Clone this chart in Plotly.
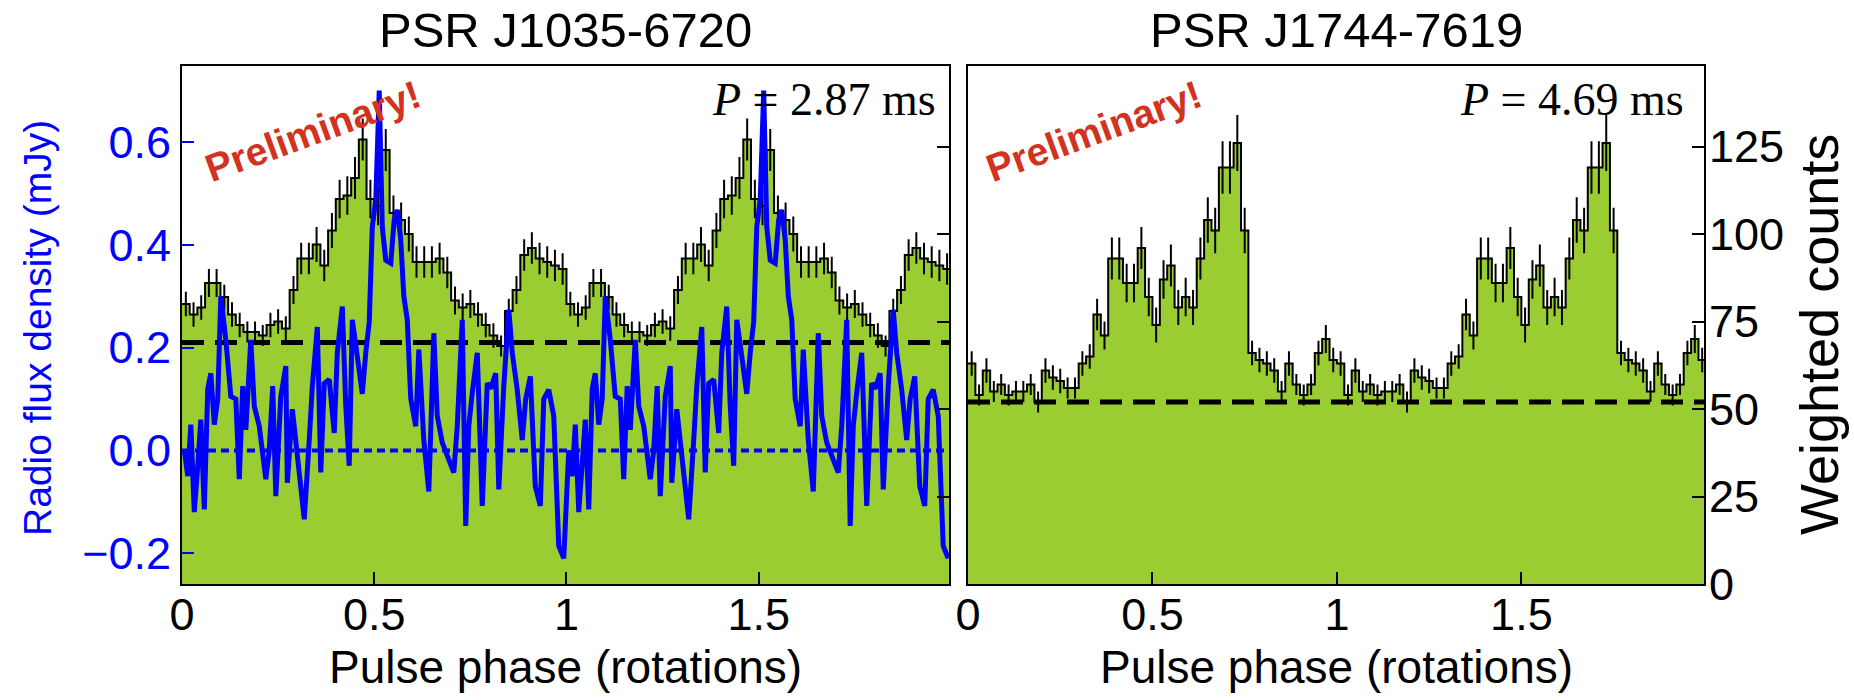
import numpy as np
import plotly.graph_objects as go

# ---------------- data ----------------
# Weighted gamma-ray counts, one rotation split into 50 phase bins
j1035_counts = [80, 77, 79, 86, 86, 82, 77, 74, 72, 72,
                71, 74, 75, 73, 84, 93, 93, 97, 91, 101,
                110, 111, 116, 127, 110, 108, 124, 106, 104, 100,
                92, 92, 92, 93, 89, 81, 79, 80, 77, 74,
                71, 68, 78, 84, 94, 96, 93, 92, 91, 90]
j1035_err = [3.5, 3.5, 3.5, 4, 4, 3.5, 3.5, 3.5, 3, 3,
             3, 3.5, 3.5, 3.5, 4, 4.5, 4.5, 5, 4.5, 5,
             5.5, 5.5, 6, 6, 5.5, 5.5, 6, 5, 5, 5,
             4.5, 4.5, 4.5, 4.5, 4.5, 4, 4, 4, 3.5, 3.5,
             3.5, 3, 3.5, 4, 4.5, 4.5, 4.5, 4.5, 4.5, 4.5]
j1035_background = 69

j1744_counts = [63, 54, 61, 55, 57, 54, 55, 55, 57, 52,
                61, 59, 58, 56, 56, 63, 65, 77, 71, 93,
                93, 86, 86, 96, 82, 74, 87, 91, 79, 82,
                79, 93, 104, 101, 119, 119, 126, 101, 66, 64,
                63, 61, 55, 63, 57, 54, 57, 66, 70, 64]
j1744_err = [3.5, 3, 3.5, 3, 3, 3, 3, 3, 3, 3,
             3.5, 3.5, 3.5, 3, 3, 3.5, 3.5, 4.5, 4, 6,
             6, 5.5, 5.5, 6, 5.5, 5, 5.5, 6, 5, 5.5,
             5, 6, 6.5, 6.5, 7.5, 7.5, 8, 6.5, 3.5, 3.5,
             3.5, 3.5, 3, 3.5, 3, 3, 3, 3.5, 4, 3.5]
j1744_background = 52

# Radio profile of PSR J1035-6720 over one rotation (mJy)
radio_phase = [0.006, 0.015, 0.023, 0.032, 0.041, 0.049, 0.058, 0.067, 0.075, 0.084,
               0.093, 0.101, 0.114, 0.127, 0.140, 0.149, 0.158, 0.166, 0.179, 0.188,
               0.201, 0.218, 0.227, 0.236, 0.244, 0.257, 0.270, 0.274, 0.287, 0.300,
               0.318, 0.331, 0.339, 0.352, 0.361, 0.370, 0.383, 0.396, 0.404, 0.417,
               0.426, 0.435, 0.443, 0.456, 0.469, 0.478, 0.487, 0.495, 0.504, 0.513,
               0.521, 0.530, 0.543, 0.552, 0.560, 0.569, 0.577, 0.586, 0.595, 0.608,
               0.616, 0.629, 0.642, 0.655, 0.664, 0.677, 0.690, 0.707, 0.716, 0.729,
               0.738, 0.746, 0.755, 0.768, 0.781, 0.794, 0.803, 0.816, 0.824, 0.837,
               0.850, 0.859, 0.872, 0.885, 0.894, 0.906, 0.919, 0.932, 0.941, 0.954,
               0.967, 0.980, 0.993]
radio_flux = [0.0, -0.05, 0.05, -0.12, -0.03, 0.06, -0.115, 0.12, 0.15, 0.05,
              0.10, 0.30, 0.215, 0.105, 0.10, -0.056, 0.125, 0.04, 0.215, 0.086,
              0.047, -0.056, 0.0, 0.125, -0.089, 0.105, 0.164, -0.063, 0.08, -0.017,
              -0.134, 0.02, 0.125, 0.24, -0.043, 0.13, 0.138, 0.034, 0.19, 0.28,
              0.086, -0.03, 0.254, 0.183, 0.11, 0.19, 0.25, 0.435, 0.487, 0.70,
              0.435, 0.37, 0.364, 0.449, 0.468, 0.41, 0.30, 0.254, 0.10, 0.047,
              0.196, 0.02, -0.08, 0.228, 0.067, 0.015, -0.01, -0.043, 0.047, 0.254,
              -0.147, 0.047, 0.112, 0.19, -0.108, 0.131, 0.12, 0.15, -0.076, 0.125,
              0.274, 0.19, 0.118, 0.02, 0.10, 0.144, -0.07, -0.108, 0.10, 0.118,
              0.067, -0.186, -0.21]

phase_ticks = [0, 0.5, 1, 1.5]
phase_ticktext = ["0", "0.5", "1", "1.5"]
flux_ticks = [-0.2, 0.0, 0.2, 0.4, 0.6]
flux_ticktext = ["\u22120.2", "0.0", "0.2", "0.4", "0.6"]
count_ticks = [0, 25, 50, 75, 100, 125]
count_ticktext = ["0", "25", "50", "75", "100", "125"]

titles = ["PSR J1035-6720", "PSR J1744-7619"]
periods = ["2.87", "4.69"]

# ---------------- styling ----------------
W, H = 1854, 700
GREEN = "#9acd32"
BLUE = "#0000ff"
RED = "#d2321e"
SANS = "Liberation Sans, Arial, Helvetica, sans-serif"
SERIF = "Liberation Serif, Times New Roman, serif"

n_bins = len(j1035_counts)
bin_w = 1.0 / n_bins
edges = np.arange(2 * n_bins + 1) * bin_w
centers = (np.arange(2 * n_bins) + 0.5) * bin_w


def two_rot(vals):
    return list(vals) + list(vals)


def px_x(p):
    return p / W


def px_y(p):
    return 1 - p / H


fig = go.Figure()


def add_histogram(counts, err, bkg, xa, ya):
    y = two_rot(counts)
    fig.add_trace(go.Scatter(
        x=edges, y=y + [y[-1]], mode="lines", line_shape="hv",
        line=dict(color="black", width=2), fill="tozeroy", fillcolor=GREEN,
        xaxis=xa, yaxis=ya, showlegend=False, hoverinfo="skip"))
    fig.add_trace(go.Scatter(
        x=centers, y=y, mode="markers",
        marker=dict(size=1, color="black"),
        error_y=dict(type="data", array=two_rot(err), color="black",
                     thickness=2, width=0),
        xaxis=xa, yaxis=ya, showlegend=False, hoverinfo="skip"))
    fig.add_trace(go.Scatter(
        x=[0, 2], y=[bkg, bkg], mode="lines",
        line=dict(color="black", width=5, dash="22px,11px"),
        xaxis=xa, yaxis=ya, showlegend=False, hoverinfo="skip"))


add_histogram(j1035_counts, j1035_err, j1035_background, "x", "y")
add_histogram(j1744_counts, j1744_err, j1744_background, "x2", "y2")

# radio profile, drawn over the gamma-ray histogram
fig.add_trace(go.Scatter(
    x=[0, 2], y=[0, 0], mode="lines",
    line=dict(color=BLUE, width=4, dash="8px,5px"),
    xaxis="x", yaxis="y3", showlegend=False, hoverinfo="skip"))
fig.add_trace(go.Scatter(
    x=list(radio_phase) + [p + 1 for p in radio_phase],
    y=two_rot(radio_flux), mode="lines",
    line=dict(color=BLUE, width=5),
    xaxis="x", yaxis="y3", showlegend=False, hoverinfo="skip"))

ydom = [px_y(584), px_y(66)]
xdom1 = [px_x(182), px_x(949)]
xdom2 = [px_x(968), px_x(1704)]
tickfont = dict(family=SANS, size=45, color="black")

xcommon = dict(range=[0, 1.995], tickvals=phase_ticks, ticktext=phase_ticktext,
               ticks="inside", ticklen=12, tickwidth=2, tickcolor="black",
               showline=True, linecolor="black", linewidth=2, mirror=True,
               showgrid=False, zeroline=False, tickfont=tickfont,
               ticklabelstandoff=-10, automargin=False)
ycount = dict(range=[0, 148], side="right", ticks="inside", ticklen=12,
              tickwidth=2, tickcolor="black", showline=True, linecolor="black",
              linewidth=2, mirror=True, showgrid=False, zeroline=False,
              domain=ydom, automargin=False)

fig.update_layout(
    width=W, height=H,
    margin=dict(l=0, r=0, t=0, b=0, pad=0, autoexpand=False),
    paper_bgcolor="white", plot_bgcolor="white",
    xaxis=dict(domain=xdom1, anchor="y", **xcommon),
    xaxis2=dict(domain=xdom2, anchor="y2", **xcommon),
    yaxis=dict(anchor="x", tickvals=count_ticks[1:], showticklabels=False, **ycount),
    yaxis2=dict(anchor="x2", tickvals=count_ticks, ticktext=count_ticktext,
                showticklabels=True, tickfont=tickfont, ticklabelstandoff=-6,
                **ycount),
    yaxis3=dict(overlaying="y", anchor="x", side="left", range=[-0.26, 0.748],
                tickvals=flux_ticks, ticktext=flux_ticktext, ticks="inside",
                ticklen=12, tickwidth=2, tickcolor=BLUE, showline=False,
                showgrid=False, zeroline=False, automargin=False,
                tickfont=dict(family=SANS, size=45, color=BLUE),
                ticklabelstandoff=10),
)

ann = []
for title, cx in zip(titles, [565.5, 1336]):
    ann.append(dict(text=title, x=px_x(cx), y=px_y(30), xref="paper", yref="paper",
                    showarrow=False, xanchor="center", yanchor="middle",
                    font=dict(family=SANS, size=49, color="black")))
for cx in [565.5, 1336]:
    ann.append(dict(text="Pulse phase (rotations)", x=px_x(cx), y=px_y(667),
                    xref="paper", yref="paper", showarrow=False,
                    xanchor="center", yanchor="middle",
                    font=dict(family=SANS, size=46, color="black")))
for per, rx in zip(periods, [938, 1686]):
    ann.append(dict(text=f"<i>P</i> = {per} ms", x=px_x(rx), y=px_y(99),
                    xref="paper", yref="paper", showarrow=False,
                    xanchor="right", yanchor="middle",
                    font=dict(family=SERIF, size=46, color="black")))
for cx in [312, 1093]:
    ann.append(dict(text="<b>Preliminary!</b>", x=px_x(cx), y=px_y(131),
                    xref="paper", yref="paper", showarrow=False, textangle=-20,
                    xanchor="center", yanchor="middle",
                    font=dict(family=SANS, size=39, color=RED)))
ann.append(dict(text="Radio flux density (mJy)", x=px_x(37), y=px_y(328),
                xref="paper", yref="paper", showarrow=False, textangle=-90,
                xanchor="center", yanchor="middle",
                font=dict(family=SANS, size=39, color=BLUE)))
ann.append(dict(text="Weighted counts", x=px_x(1819), y=px_y(335),
                xref="paper", yref="paper", showarrow=False, textangle=-90,
                xanchor="center", yanchor="middle",
                font=dict(family=SANS, size=54, color="black")))
fig.update_layout(annotations=ann)

fig.write_html("out.html")
